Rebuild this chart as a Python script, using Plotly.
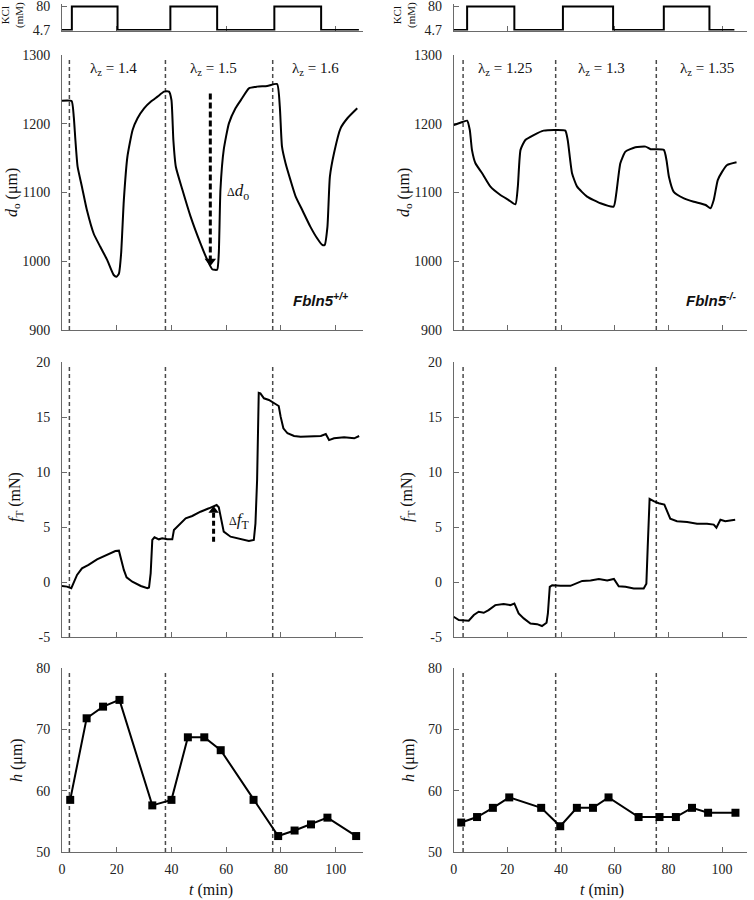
import plotly.graph_objects as go

W, H = 754, 900

# ---------------- data ----------------
# KCl protocol (step changes, mM)
kcl_wt_t = [0, 3.6, 20.3, 39.6, 56.7, 77.6, 94.7, 108.5]
kcl_wt_c = [4.7, 80, 4.7, 80, 4.7, 80, 4.7, 4.7]
kcl_ko_t = [0, 5.0, 22.6, 40.7, 59.4, 78.3, 95.3, 104.6]
kcl_ko_c = [4.7, 80, 4.7, 80, 4.7, 80, 4.7, 4.7]

# outer diameter d_o (um)
do_wt_t = [0, 3.5, 4.3, 4.9, 5.7, 7.3, 9.1, 11.6, 14.0, 16.5, 18.9, 19.9, 20.8, 21.6, 22.6, 23.9,
           25.8, 27.6, 30.0, 32.4, 34.9, 37.3, 39.1, 40.0, 40.7, 41.6, 44.0, 47.0, 50.6, 53.1, 54.9,
           56.7, 57.3, 57.9, 59.1, 61.0, 63.4, 65.8, 68.3, 71.3, 75.0, 78.6, 79.6, 80.4, 81.7, 83.5,
           85.4, 87.8, 90.8, 93.3, 95.1, 96.0, 97.0, 97.9, 99.4, 101.8, 104.3, 107.9]
do_wt_v = [1233.5, 1233, 1210, 1176, 1137.5, 1108, 1074.5, 1040, 1021, 1002, 980, 977.4, 982, 1011,
           1089, 1152, 1191, 1208, 1222.5, 1232, 1239.4, 1246.7, 1246.7, 1234.5, 1176, 1137.5, 1104,
           1065, 1026, 1002, 988.4, 987.7, 1011.5, 1104, 1162, 1200.6, 1222.5, 1237, 1251.5, 1254,
           1255, 1257.8, 1225, 1166.6, 1142.5, 1118, 1094, 1074.5, 1050, 1033, 1023.7, 1023.7, 1050,
           1123, 1157, 1193.4, 1208, 1222.5]
do_ko_t = [0, 2.5, 5.0, 6.0, 6.8, 8.1, 10.6, 13.7, 17.4, 20.5, 23.0, 23.9, 24.9, 26.7, 29.8, 33.5,
           38.5, 41.6, 42.5, 44.1, 46.0, 49.7, 54.7, 59.6, 60.6, 62.1, 64.0, 67.7, 71.5, 73.4, 78.3,
           79.3, 80.2, 82.0, 85.8, 89.5, 93.9, 95.7, 96.9, 98.4, 100.0, 101.9, 105.4]
do_ko_v = [1198, 1201.5, 1204.5, 1191, 1162, 1142.5, 1128, 1108.5, 1096.4, 1089, 1082.8, 1108.5,
           1162, 1176.4, 1183.6, 1190, 1191, 1190, 1176, 1128, 1108.5, 1094, 1084.3, 1079.5, 1099,
           1142.5, 1159.4, 1165.7, 1166.7, 1163, 1162, 1147, 1123, 1101, 1091.5, 1086.6, 1081.8,
           1077, 1089, 1118, 1130, 1140, 1144]

# axial force f_T (mN)
ft_wt_t = [0, 1.8, 3.4, 4.3, 5.5, 7.3, 9.7, 12.8, 16.5, 19.5, 20.8, 21.6, 22.6, 23.6, 25.7, 28.8,
           31.2, 31.8, 32.4, 33.0, 33.8, 35.4, 36.6, 38.5, 40.3, 40.9, 42.7, 45.2, 47.6, 50.6, 53.7,
           55.5, 56.5, 57.3, 58.2, 59.1, 61.6, 65.2, 68.3, 70.1, 70.7, 71.3, 71.9, 72.5, 73.8, 75.6,
           77.4, 79.2, 79.9, 80.9, 82.4, 84.8, 87.2, 90.9, 94.6, 96.4, 97.6, 99.4, 103.1, 106.8, 108.6]
ft_wt_v = [-0.36, -0.42, -0.57, 0.03, 0.64, 1.24, 1.55, 2.06, 2.45, 2.82, 2.85, 2.0, 1.1, 0.43, 0.03,
           -0.36, -0.57, -0.5, 0.79, 3.82, 4.06, 3.88, 3.97, 3.88, 3.88, 4.73, 5.18, 5.79, 6.0, 6.39,
           6.7, 6.85, 7.0, 6.79, 5.64, 4.58, 4.12, 3.88, 3.73, 3.82, 5.33, 9.27, 17.2, 17.15, 16.7,
           16.55, 16.24, 16.0, 15.03, 13.97, 13.52, 13.27, 13.21, 13.27, 13.27, 13.45, 12.9, 13.06,
           13.15, 13.06, 13.27]
ft_ko_t = [0, 1.9, 5.6, 7.5, 9.3, 11.2, 13.0, 15.5, 18.6, 21.1, 22.6, 24.2, 26.1, 28.6, 31.1, 32.9,
           34.6, 35.1, 35.8, 36.7, 39.8, 43.5, 47.9, 51.0, 54.1, 57.2, 59.7, 61.5, 64.0, 67.1, 70.8,
           71.8, 72.3, 73.0, 74.5, 76.4, 78.5, 79.5, 80.7, 83.2, 87.0, 90.7, 94.4, 96.9, 97.9, 99.4,
           101.2, 104.9]
ft_ko_v = [-3.16, -3.46, -3.52, -3.0, -2.7, -2.8, -2.55, -2.1, -2.0, -2.1, -1.95, -2.86, -3.31, -3.77,
           -3.83, -4.0, -3.7, -2.86, -0.44, -0.29, -0.35, -0.35, 0.1, 0.14, 0.28, 0.14, 0.28, -0.38,
           -0.44, -0.6, -0.6, -0.15, 3.17, 7.56, 7.35, 7.16, 7.04, 6.5, 5.75, 5.53, 5.46, 5.3, 5.3,
           5.22, 4.94, 5.66, 5.53, 5.66]

# wall thickness h (um)
h_wt_t = [3, 9, 15, 21, 33, 40, 46, 52, 58, 70, 79, 85, 91, 97, 107.5]
h_wt_v = [58.5, 71.8, 73.7, 74.8, 57.6, 58.5, 68.7, 68.7, 66.6, 58.5, 52.6, 53.5, 54.5, 55.6, 52.6]
h_ko_t = [2.8, 8.7, 14.6, 20.7, 32.6, 39.7, 45.9, 51.9, 57.7, 68.9, 76.7, 82.8, 88.8, 94.8, 105.0]
h_ko_v = [54.8, 55.7, 57.2, 58.9, 57.2, 54.2, 57.2, 57.2, 58.9, 55.7, 55.7, 55.7, 57.2, 56.4, 56.4]

# axial stretch change times (min) and labels
stretch_wt_t = [2.7, 37.8, 77.0]
stretch_ko_t = [3.5, 38.0, 75.5]
stretch_wt_lbl = ["1.4", "1.5", "1.6"]
stretch_ko_lbl = ["1.25", "1.3", "1.35"]

# Delta arrows (time, start value, end value)
delta_do = [54.2, 1244, 1003]
delta_ft = [55.4, 3.66, 6.35]

x_ticks = [0, 20, 40, 60, 80, 100]
kcl_ticks = [20, 60, 100]
do_ticks = [900, 1000, 1100, 1200, 1300]
ft_ticks = [-5, 0, 5, 10, 15, 20]
h_ticks = [50, 60, 70, 80]

# ---------------- layout helpers ----------------
def px(p):
    return p / W

def py(p):
    return 1 - p / H

SERIF = "Liberation Serif, Times New Roman, DejaVu Serif, serif"
SANS = "Liberation Sans, Arial, DejaVu Sans, sans-serif"
AX = "#6a6a6a"
tickfont = dict(family=SERIF, size=14, color="#222")

xdom_l = [px(62), px(363)]
xdom_r = [px(453.7), px(747)]
ydom = {
    "kcl": [py(30.5), py(4)],
    "do": [py(330), py(55)],
    "ft": [py(637), py(362)],
    "h": [py(852), py(668)],
}

fig = go.Figure()
line = dict(color="black", width=2)
sline = dict(color="black", width=2, shape="spline", smoothing=0.5)

def add(x, y, n, **kw):
    xa = "x" if n == 1 else f"x{n}"
    ya = "y" if n == 1 else f"y{n}"
    fig.add_trace(go.Scatter(x=x, y=y, xaxis=xa, yaxis=ya, showlegend=False,
                             hoverinfo="skip", cliponaxis=False, **kw))

add(kcl_wt_t, kcl_wt_c, 1, mode="lines", line=dict(color="black", width=2, shape="hv"))
add(kcl_ko_t, kcl_ko_c, 2, mode="lines", line=dict(color="black", width=2, shape="hv"))
add(do_wt_t, do_wt_v, 3, mode="lines", line=sline)
add(do_ko_t, do_ko_v, 4, mode="lines", line=sline)
add(ft_wt_t, ft_wt_v, 5, mode="lines", line=line)
add(ft_ko_t, ft_ko_v, 6, mode="lines", line=line)
add(h_wt_t, h_wt_v, 7, mode="lines+markers", line=line,
    marker=dict(symbol="square", size=8, color="black"))
add(h_ko_t, h_ko_v, 8, mode="lines+markers", line=line,
    marker=dict(symbol="square", size=8, color="black"))

# delta arrows
add([delta_do[0]] * 2, delta_do[1:], 3, mode="lines",
    line=dict(color="black", width=3, dash="6px,3px"))
add([delta_do[0]], [delta_do[2] - 3], 3, mode="markers",
    marker=dict(symbol="triangle-down", size=10, color="black"))
add([delta_ft[0]] * 2, delta_ft[1:], 5, mode="lines",
    line=dict(color="black", width=3, dash="5px,3px"))
add([delta_ft[0]], [delta_ft[2] + 0.15], 5, mode="markers",
    marker=dict(symbol="triangle-up", size=9, color="black"))

layout = dict(width=W, height=H, margin=dict(l=0, r=0, t=0, b=0, autoexpand=False),
              plot_bgcolor="white", paper_bgcolor="white", showlegend=False)

rows = [("kcl", [3.1, 88.0], None), ("do", [900, 1300], do_ticks),
        ("ft", [-5, 20], ft_ticks), ("h", [50, 80], h_ticks)]
n = 0
for key, yr, yt in rows:
    for side in ("l", "r"):
        n += 1
        xs = "xaxis" if n == 1 else f"xaxis{n}"
        ys = "yaxis" if n == 1 else f"yaxis{n}"
        xa = "x" if n == 1 else f"x{n}"
        ya = "y" if n == 1 else f"y{n}"
        xr = [0, 110] if side == "l" else [0, 109.3]
        xdict = dict(domain=xdom_l if side == "l" else xdom_r, range=xr, anchor=ya,
                     showline=True, linecolor=AX, linewidth=1, ticks="inside", ticklen=5,
                     tickcolor=AX, showgrid=False, zeroline=False, tickfont=tickfont,
                     fixedrange=True, layer="below traces", automargin=False,
                     ticklabeloverflow="allow")
        if key == "kcl":
            xdict.update(tickvals=kcl_ticks, showticklabels=False)
        elif key == "h":
            xdict.update(tickvals=x_ticks, ticktext=[str(v) for v in x_ticks],
                         showticklabels=True, ticklabelstandoff=4)
        else:
            xdict.update(tickvals=x_ticks, showticklabels=False)
        ydict = dict(domain=ydom[key], anchor=xa, showline=True, linecolor=AX, linewidth=1,
                     ticks="inside", ticklen=5, tickcolor=AX, showgrid=False, zeroline=False,
                     tickfont=tickfont, fixedrange=True, ticklabelstandoff=8,
                     layer="below traces", range=yr, automargin=False,
                     ticklabeloverflow="allow")
        if key == "kcl":
            ydict.update(tickvals=[4.7, 80], ticktext=["4.7", "80"])
        else:
            ydict.update(tickvals=yt, ticktext=[str(v) for v in yt])
        layout[xs] = xdict
        layout[ys] = ydict

# dashed stretch-change lines
shapes = []
for base, times in ((3, stretch_wt_t), (4, stretch_ko_t)):
    for k in (0, 2, 4):
        idx = base + k
        for t in times:
            shapes.append(dict(type="line", xref=f"x{idx}", yref=f"y{idx} domain",
                               x0=t, x1=t, y0=0, y1=0.985, layer="below",
                               line=dict(color="#4a4a4a", width=1.5, dash="4px,3px")))
layout["shapes"] = shapes

ann = []
def text(x, y, s, size=15, family=SERIF, angle=0, color="#111"):
    ann.append(dict(x=px(x), y=py(y), xref="paper", yref="paper", text=s, showarrow=False,
                    textangle=angle, font=dict(family=family, size=size, color=color),
                    xanchor="center", yanchor="middle"))

# lambda labels
for xc, lbl in zip([113, 213, 315], stretch_wt_lbl):
    text(xc, 69, f"λ<sub>z</sub> = {lbl}", 15)
for xc, lbl in zip([505, 601, 707], stretch_ko_lbl):
    text(xc, 69, f"λ<sub>z</sub> = {lbl}", 15)

# genotype labels
text(320, 300, "<b><i>Fbln5<sup>+/+</sup></i></b>", 15, SANS)
text(711, 300, "<b><i>Fbln5<sup>-/-</sup></i></b>", 15, SANS)

# axis titles
for xo in (0, 392):
    text(12 + xo, 15, "KCl<br>(mM)", 11, angle=-90)
    text(12 + xo, 193, "<i>d</i><sub>o</sub> (μm)", 16, angle=-90)
    text(16 + xo, 497, "<i>f</i><sub>T</sub> (mN)", 16, angle=-90)
    text(17 + xo, 760, "<i>h</i> (μm)", 16, angle=-90)
text(211, 890, "<i>t</i> (min)", 16)
text(602, 890, "<i>t</i> (min)", 16)

# delta labels
text(238, 192, "<span style='font-size:12px'>Δ</span><i>d</i><sub>o</sub>", 17)
text(239, 521, "<span style='font-size:12px'>Δ</span><i>f</i><sub>T</sub>", 17)

layout["annotations"] = ann
fig.update_layout(**layout)
fig.write_html(
    "out.html",
    config={"displayModeBar": False, "staticPlot": True},
    post_script="document.body.style.margin='0';document.body.style.padding='0';"
                "document.documentElement.style.overflow='hidden';",
)
